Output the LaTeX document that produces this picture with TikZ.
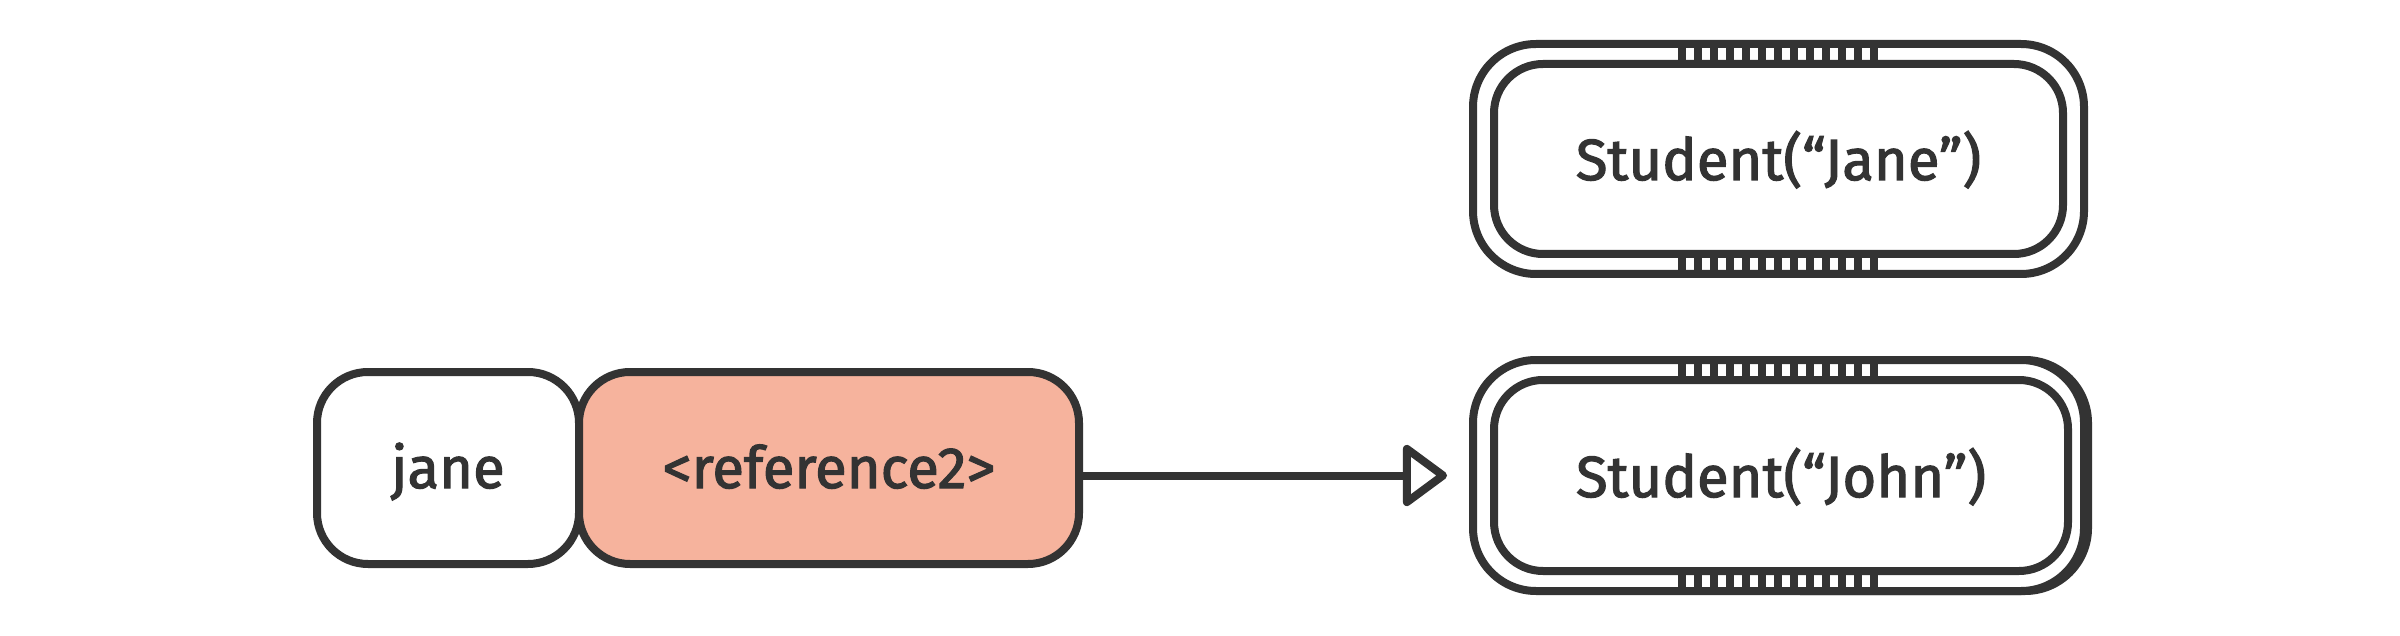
\documentclass[tikz,border=0pt]{standalone}
\usepackage{fontspec}
\setmainfont{Fira Sans}[FakeBold=2]
\usetikzlibrary{arrows.meta}
\definecolor{ink}{HTML}{333333}
\definecolor{salmon}{HTML}{F6B39D}
\begin{document}
\begin{tikzpicture}[x=1pt,y=-1pt,
  every node/.style={inner sep=0pt, outer sep=0pt},
  cell/.style={draw=ink, line width=8pt, rounded corners=51pt, minimum height=192pt,
    text=ink, font=\fontsize{58}{66}\selectfont, text height=45pt, text depth=5pt},
  outerbox/.style={draw=ink, line width=8pt, rounded corners=63pt, fill=white},
  innerbox/.style={draw=ink, line width=8pt, rounded corners=49pt,
    text=ink, font=\fontsize{58}{66}\selectfont, text height=45pt, text depth=3pt},
  hatch/.style={fill=ink},
  link/.style={draw=ink, line width=8pt, -{Triangle[open, length=47pt, width=67pt, round]}}
]
\useasboundingbox (0,0) rectangle (2400,636);

% left cells
\node[cell, minimum width=262pt, fill=white] (jane) at (448,468) {jane};
\node[cell, minimum width=500pt, fill=salmon] (ref) at (829,468) {<reference2>};

% Student("Jane")
\node[outerbox, minimum width=611pt, minimum height=230pt] (janeobjout) at (1778.5,159) {};
\node[innerbox, minimum width=569pt, minimum height=190pt] (janeobj) at (1778.5,159) {Student(“Jane”)};

% Student("John") with a slight offset outline on the right
\begin{scope}
  \clip (1800,330) rectangle (2120,620);
  \node[outerbox, minimum width=611pt, minimum height=231pt] (johnshadow) at (1782.5,475.5) {};
\end{scope}
\node[outerbox, minimum width=611pt, minimum height=231pt] (johnobjout) at (1778.5,475.5) {};
\node[innerbox, minimum width=574pt, minimum height=191pt, text height=46pt] (johnobj) at (1781,475.5) {Student(“John”)};

% hatches between the double outlines
\foreach \yy in {44,254,360,571}{
  \foreach \k in {0,...,12}{
    \fill[hatch] (1678+16*\k,\yy) rectangle ++(8,20);
  }
}

% reference arrow
\draw[link, shorten >=26pt] (ref.east |- johnobjout.west) -- (johnobjout.west);
\end{tikzpicture}
\end{document}
